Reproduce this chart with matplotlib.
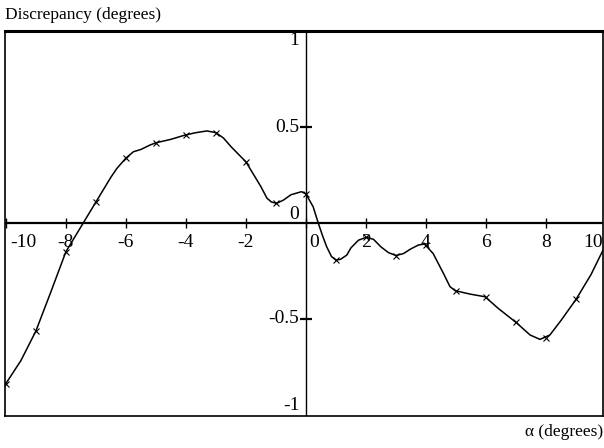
import matplotlib.pyplot as plt

plt.rcParams['font.family'] = ['Liberation Serif', 'DejaVu Serif']

# marked samples at integer angles
alpha_pts = [-10, -9, -8, -7, -6, -5, -4, -3, -2, -1, 0,
             1, 2, 3, 4, 5, 6, 7, 8, 9, 10]
disc_pts = [-0.84, -0.565, -0.15, 0.11, 0.34, 0.42, 0.46, 0.473, 0.32, 0.103, 0.152,
            -0.194, -0.075, -0.17, -0.115, -0.354, -0.386, -0.52, -0.60, -0.40, -0.11]

# the drawn curve at a finer spacing
alpha_curve = [-10, -9.5, -9, -8.5, -8, -7.5, -7, -6.5, -6.3, -6, -5.75, -5.5,
               -5.2, -5, -4.5, -4.1, -3.7, -3.3, -3.0, -2.75, -2.5, -2, -1.5,
               -1.3, -1.15, -0.98, -0.75, -0.5, -0.15, 0, 0.24, 0.41, 0.55, 0.69,
               0.85, 1.0, 1.15, 1.36, 1.5, 1.75, 2, 2.25, 2.5, 2.75, 3, 3.25,
               3.5, 3.75, 3.95, 4.24, 4.58, 4.8, 4.97, 5.47, 5.97, 6.41, 7,
               7.47, 7.8, 8.13, 8.5, 9, 9.5, 10]
disc_curve = [-0.84, -0.72, -0.565, -0.36, -0.15, -0.02, 0.11, 0.24, 0.286, 0.34,
              0.373, 0.385, 0.408, 0.42, 0.438, 0.457, 0.472, 0.482, 0.473, 0.445,
              0.40, 0.32, 0.19, 0.13, 0.11, 0.103, 0.12, 0.148, 0.164, 0.152,
              0.085, 0.0, -0.065, -0.124, -0.175, -0.194, -0.19, -0.168, -0.13,
              -0.09, -0.075, -0.085, -0.125, -0.155, -0.17, -0.16, -0.135, -0.115,
              -0.11, -0.16, -0.263, -0.333, -0.354, -0.372, -0.386, -0.447, -0.52,
              -0.586, -0.609, -0.586, -0.51, -0.40, -0.27, -0.11]

xticks = [-10, -8, -6, -4, -2, 0, 2, 4, 6, 8, 10]
yticks = [-1, -0.5, 0, 0.5, 1]
ylabels = ['-1', '-0.5', '0', '0.5', '1']

fig = plt.figure(figsize=(6.04, 4.48), dpi=100)
ax = fig.add_axes([5 / 604, 32 / 448, 598 / 604, 385 / 448])
ax.set_xlim(-10.03, 9.9)
ax.set_ylim(-1.01, 1.005)
ax.set_xticks([])
ax.set_yticks([])
for s in ax.spines.values():
    s.set_linewidth(1.2)
ax.spines['top'].set_linewidth(2.2)

ax.axhline(0, color='black', lw=1.6)
ax.axvline(0, color='black', lw=1.0)

# tick marks on the centre axes
ax.plot(xticks, [0] * len(xticks), ls='none', marker='|', ms=7, mew=1.0, color='black')
ax.plot([0, 0], [-0.5, 0.5], ls='none', marker='_', ms=9, mew=1.6, color='black')

ax.plot(alpha_curve, disc_curve, color='black', lw=1.1)
ax.plot(alpha_pts, disc_pts, ls='none', marker='x', ms=4, mew=0.8, color='black')

fs = 14
for v in xticks:
    if v == -10:
        ax.text(v + 0.15, -0.055, str(v), ha='left', va='top', fontsize=fs)
    elif v == 10:
        ax.text(9.9, -0.055, str(v), ha='right', va='top', fontsize=fs)
    elif v == 0:
        ax.text(0.12, -0.055, str(v), ha='left', va='top', fontsize=fs)
    else:
        ax.text(v, -0.055, str(v), ha='center', va='top', fontsize=fs)

for v, lab in zip(yticks, ylabels):
    if v == 1:
        va = 'top'
    elif v == -1 or v == 0:
        va = 'bottom'
    else:
        va = 'center'
    ax.text(-0.22, v, lab, ha='right', va=va, fontsize=fs)

fig.text(5 / 604, 1 - 15 / 448, 'Discrepancy (degrees)', ha='left', va='center', fontsize=12.5)
fig.text(603 / 604, 1 - 432 / 448, 'α (degrees)', ha='right', va='center', fontsize=12.5)

fig.savefig('out.png', dpi=100)
